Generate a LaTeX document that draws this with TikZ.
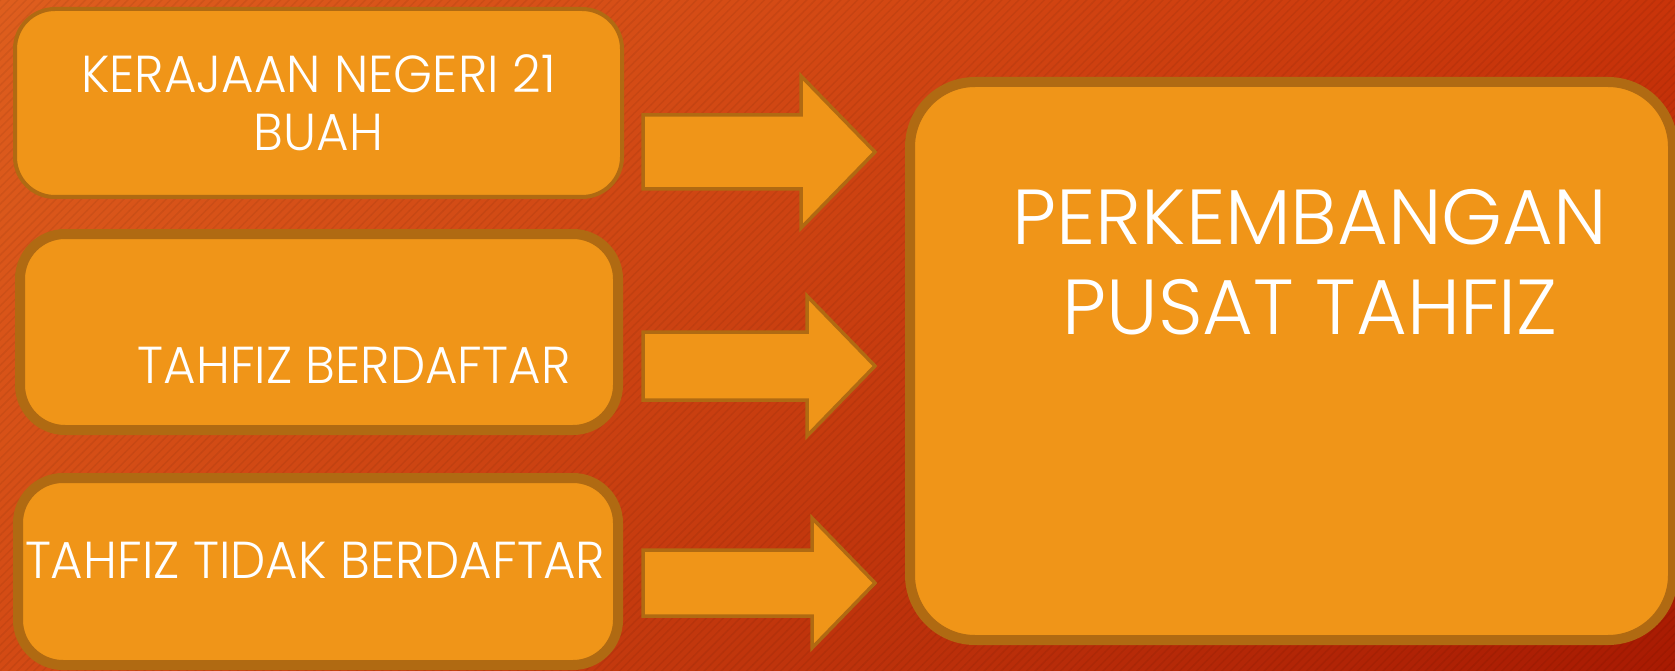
\documentclass[tikz,border=0pt]{standalone}
\usepackage{fontspec}
\newfontfamily\gothfont{Poppins Light}[FakeStretch=0.96]
\newfontfamily\gothbig{Poppins Light}[FakeStretch=1.0]
\usetikzlibrary{patterns.meta,shadings}

\definecolor{bgtl}{HTML}{DE5E1E}
\definecolor{bgtr}{HTML}{C9340A}
\definecolor{bgbl}{HTML}{D34A14}
\definecolor{bgbr}{HTML}{A81A02}
\definecolor{boxfill}{HTML}{F09518}
\definecolor{boxedge}{HTML}{B06A12}

\begin{document}
\begin{tikzpicture}[
            x=1pt, y=-1pt,
            panel/.style={draw=boxedge, fill=boxfill, line width=10pt, rounded corners=45pt, inner sep=0pt},
            txt/.style={text=white, align=center, inner sep=0pt, font=\gothfont\fontsize{52}{58}\selectfont},
            bigtxt/.style={txt, font=\gothbig\fontsize{78}{90}\selectfont},
            blockarrow/.style={draw=boxedge, fill=boxfill, line width=3.5pt, line join=miter},
            ]
            \useasboundingbox (0,0) rectangle (1675,671);
            \begin{scope}
                \clip (0,0) rectangle (1675,671);
                % background
                \shade[upper left=bgtl, upper right=bgtr, lower left=bgbl, lower right=bgbr] (0,0) rectangle (1675,671);
                \fill[pattern={Lines[angle=45, distance=6pt, line width=1.5pt]}, pattern color=black, opacity=.06] (0,0) rectangle (1675,671);

                % left boxes
                \node[panel, line width=4pt, rounded corners=40pt, minimum width=607pt, minimum height=188pt] (krj) at (318.5,103) {};
                \node[txt] (krjTxt) at (krj.center) {KERAJAAN NEGERI 21\\BUAH};
                \node[panel, minimum width=598pt, minimum height=196pt] (daftar) at (319,332) {};
                \node[txt] (daftarTxt) at (354,365) {TAHFIZ BERDAFTAR};
                \node[panel, minimum width=600pt, minimum height=187pt] (tdk) at (318,571.5) {};
                \node[txt] (tdkTxt) at (315,560) {TAHFIZ TIDAK BERDAFTAR};

                % arrows
                \foreach \cy/\sh/\hh/\bx in {152/37/76/801, 366/34/70/807, 583/33/65/812}
                    \draw[blockarrow] (643,\cy-\sh) -- (\bx,\cy-\sh) -- (\bx,\cy-\hh) -- (875,\cy)
                        -- (\bx,\cy+\hh) -- (\bx,\cy+\sh) -- (643,\cy+\sh) -- cycle;

                % right box
                \node[panel, rounded corners=65pt, minimum width=763pt, minimum height=558pt] (pusat) at (1291.5,361) {};
                \node[bigtxt] (pusatTxt) at (1310,262) {PERKEMBANGAN\\PUSAT TAHFIZ};
            \end{scope}
        \end{tikzpicture}
\end{document}
